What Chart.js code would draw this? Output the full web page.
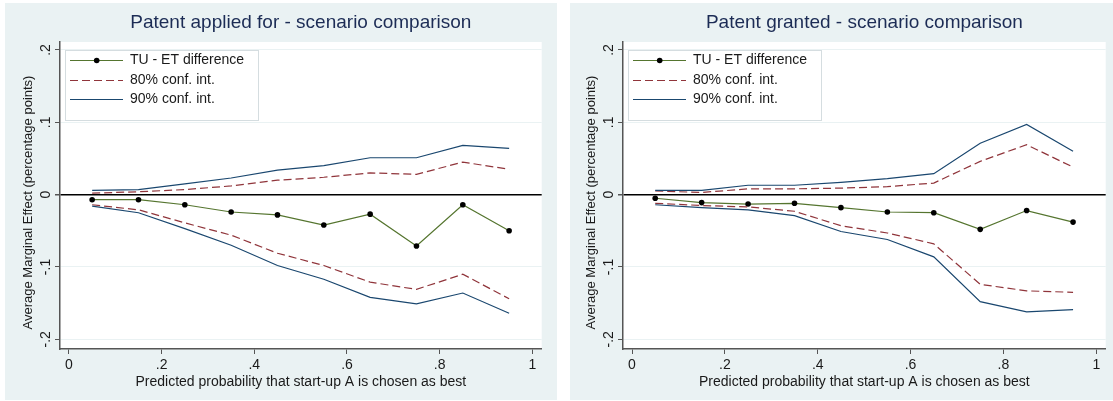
<!DOCTYPE html>
<html lang="en">
<head>
<meta charset="UTF-8">
<title>Scenario comparison</title>
<script src="https://cdn.jsdelivr.net/npm/chart.js"></script>
<style>
  html, body { margin: 0; padding: 0; background: #fff; }
  body { width: 1113px; height: 401px; position: relative; overflow: hidden; }
  .panel { position: absolute; background: #eaf2f3; }
  canvas { position: absolute; }
</style>
</head>
<body>
<div class="panel" style="left:5px;top:3px;width:552px;height:397px"></div>
<div class="panel" style="left:570px;top:3px;width:543px;height:397px"></div>
<canvas id="applied" width="552" height="397" style="left:5px;top:3px"></canvas>
<canvas id="granted" width="545" height="397" style="left:568px;top:3px"></canvas>
<script>
// predicted probability bins (x)
const xValues = [0.05, 0.15, 0.25, 0.35, 0.45, 0.55, 0.65, 0.75, 0.85, 0.95];

// Patent applied for
const appliedDiff = [-0.007, -0.007, -0.014, -0.024, -0.028, -0.042, -0.027, -0.071, -0.014, -0.050];
const appliedHi80 = [0.002, 0.004, 0.007, 0.012, 0.020, 0.024, 0.030, 0.028, 0.045, 0.035];
const appliedLo80 = [-0.014, -0.021, -0.039, -0.056, -0.081, -0.098, -0.121, -0.131, -0.110, -0.144];
const appliedHi90 = [0.006, 0.007, 0.015, 0.023, 0.034, 0.040, 0.051, 0.051, 0.068, 0.064];
const appliedLo90 = [-0.016, -0.025, -0.047, -0.070, -0.098, -0.117, -0.142, -0.151, -0.136, -0.164];

// Patent granted
const grantedDiff = [-0.005, -0.011, -0.013, -0.012, -0.018, -0.024, -0.025, -0.048, -0.022, -0.038];
const grantedHi80 = [0.005, 0.003, 0.008, 0.008, 0.009, 0.011, 0.016, 0.046, 0.069, 0.038];
const grantedLo80 = [-0.012, -0.015, -0.017, -0.023, -0.043, -0.053, -0.068, -0.124, -0.133, -0.135];
const grantedHi90 = [0.006, 0.006, 0.013, 0.013, 0.017, 0.022, 0.029, 0.071, 0.097, 0.060];
const grantedLo90 = [-0.014, -0.018, -0.021, -0.029, -0.051, -0.062, -0.086, -0.148, -0.162, -0.159];

const yTickValues = [-0.2, -0.1, 0, 0.1, 0.2];
const yTickLabels = ['-.2', '-.1', '0', '.1', '.2'];
const xTickValues = [0, 0.2, 0.4, 0.6, 0.8, 1];
const xTickLabels = ['0', '.2', '.4', '.6', '.8', '1'];

const Y_TITLE = 'Average Marginal Effect (percentage points)';
const X_TITLE = 'Predicted probability that start-up A is chosen as best';

const FONT = "'Liberation Sans', Arial, sans-serif";
const GREEN = '#55752f', MAROON = '#90353b', NAVY = '#1a476f';

function pts(arr) {
  return xValues.map((x, i) => ({ x: x, y: arr[i] }));
}

// white plot region
const plotBg = {
  id: 'plotBg',
  beforeDraw(chart) {
    const a = chart.chartArea, ctx = chart.ctx;
    ctx.save();
    ctx.fillStyle = '#fff';
    ctx.fillRect(a.left, a.top, a.right - a.left, a.bottom - a.top);
    ctx.restore();
  }
};

// y title sits a bit below the axis middle in the original, so draw it here
const yTitle = {
  id: 'yTitle',
  afterDraw(chart) {
    const ctx = chart.ctx, a = chart.chartArea;
    ctx.save();
    ctx.translate(23, (a.top + a.bottom) / 2 + 7);
    ctx.rotate(-Math.PI / 2);
    ctx.fillStyle = '#1a1a1a';
    ctx.font = '13px ' + FONT;
    ctx.textAlign = 'center';
    ctx.textBaseline = 'middle';
    ctx.fillText(Y_TITLE, 0, 0);
    ctx.restore();
  }
};

// Stata-like legend box inside the plot
const boxLegend = {
  id: 'boxLegend',
  afterDraw(chart) {
    const ctx = chart.ctx, a = chart.chartArea;
    const x0 = a.left + 5, y0 = a.top + 8;
    ctx.save();
    ctx.fillStyle = '#fff';
    ctx.fillRect(x0, y0, 193, 70);
    ctx.strokeStyle = '#d5dde0';
    ctx.lineWidth = 1;
    ctx.strokeRect(x0 + 0.5, y0 + 0.5, 193, 70);
    let row = 0;
    chart.data.datasets.forEach(ds => {
      if (ds.inLegend === false) return;
      const y = Math.round(y0 + 10 + row * 19.7) + 0.5;
      ctx.strokeStyle = ds.borderColor;
      ctx.lineWidth = ds.borderWidth;
      ctx.setLineDash(ds.borderDash || []);
      ctx.beginPath();
      ctx.moveTo(a.left + 10, y);
      ctx.lineTo(a.left + 63, y);
      ctx.stroke();
      ctx.setLineDash([]);
      if (ds.pointRadius > 0) {
        ctx.fillStyle = ds.pointBackgroundColor;
        ctx.beginPath();
        ctx.arc(a.left + 36.7, y, ds.pointRadius, 0, Math.PI * 2);
        ctx.fill();
      }
      ctx.fillStyle = '#1a1a1a';
      ctx.font = '14px ' + FONT;
      ctx.textBaseline = 'middle';
      ctx.textAlign = 'left';
      ctx.fillText(ds.label, a.left + 70, y);
      row++;
    });
    ctx.restore();
  }
};

function makeChart(id, title, diff, hi80, lo80, hi90, lo90, rightPad) {
  const line = (label, data, color, dash, inLegend) => ({
    label: label, data: pts(data), borderColor: color, backgroundColor: color,
    borderWidth: 1.2, borderDash: dash, pointRadius: 0, inLegend: inLegend,
    tension: 0, fill: false
  });
  new Chart(document.getElementById(id), {
    type: 'line',
    data: {
      datasets: [
        line('90% conf. int.', hi90, NAVY, [], false),
        line('90% conf. int.', lo90, NAVY, [], false),
        line('80% conf. int.', hi80, MAROON, [8, 4], false),
        line('80% conf. int.', lo80, MAROON, [8, 4], false),
        {
          label: 'TU - ET difference', data: pts(diff), borderColor: GREEN,
          borderWidth: 1.2, pointRadius: 2.8, pointBackgroundColor: '#000',
          pointBorderWidth: 0, pointBorderColor: '#000', tension: 0
        },
        line('80% conf. int.', [], MAROON, [8, 4], true),
        line('90% conf. int.', [], NAVY, [], true)
      ]
    },
    options: {
      responsive: false,
      animation: false,
      devicePixelRatio: 1,
      layout: { padding: { left: 0, top: 0, right: rightPad, bottom: 0 } },
      plugins: {
        legend: { display: false },
        tooltip: { enabled: false },
        title: {
          display: true, text: title, fullSize: false, color: '#1c2c55',
          font: { family: FONT, size: 19, weight: 'normal', lineHeight: 1.2 },
          padding: { top: 8.3, bottom: 7.9 }
        }
      },
      scales: {
        x: {
          type: 'linear', min: -0.0194, max: 1.0203,
          afterBuildTicks: s => { s.ticks = xTickValues.map(v => ({ value: v })); },
          afterFit: s => { s.height = 51; },
          ticks: {
            callback: (v, i) => xTickLabels[i], color: '#1a1a1a', padding: 3,
            maxRotation: 0, font: { family: FONT, size: 14 }
          },
          grid: { drawOnChartArea: false, drawTicks: true, tickLength: 5, tickColor: '#555' },
          border: { display: true, color: '#555', width: 1.5 },
          title: {
            display: true, text: X_TITLE,
            color: '#1a1a1a', font: { family: FONT, size: 14, lineHeight: 1.2 },
            padding: { top: 0, bottom: 9.6 }
          }
        },
        y: {
          type: 'linear', min: -0.2134, max: 0.211,
          afterBuildTicks: s => { s.ticks = yTickValues.map(v => ({ value: v })); },
          afterFit: s => { s.width = 55; },
          ticks: {
            callback: (v, i) => yTickLabels[i], color: '#1a1a1a', padding: 1,
            minRotation: 90, maxRotation: 90, crossAlign: 'center',
            font: { family: FONT, size: 14 }
          },
          grid: {
            drawTicks: true, tickLength: 5, tickColor: '#555',
            color: c => (c.tick && c.tick.value === 0) ? '#000' : '#eaf2f3',
            lineWidth: c => (c.tick && c.tick.value === 0) ? 1.5 : 1
          },
          border: { display: true, color: '#555', width: 1.5 },
          title: { display: false }
        }
      }
    },
    plugins: [plotBg, boxLegend, yTitle]
  });
}

makeChart('applied', 'Patent applied for - scenario comparison',
  appliedDiff, appliedHi80, appliedLo80, appliedHi90, appliedLo90, 15.3);
makeChart('granted', 'Patent granted - scenario comparison',
  grantedDiff, grantedHi80, grantedLo80, grantedHi90, grantedLo90, 7.3);
</script>
</body>
</html>
